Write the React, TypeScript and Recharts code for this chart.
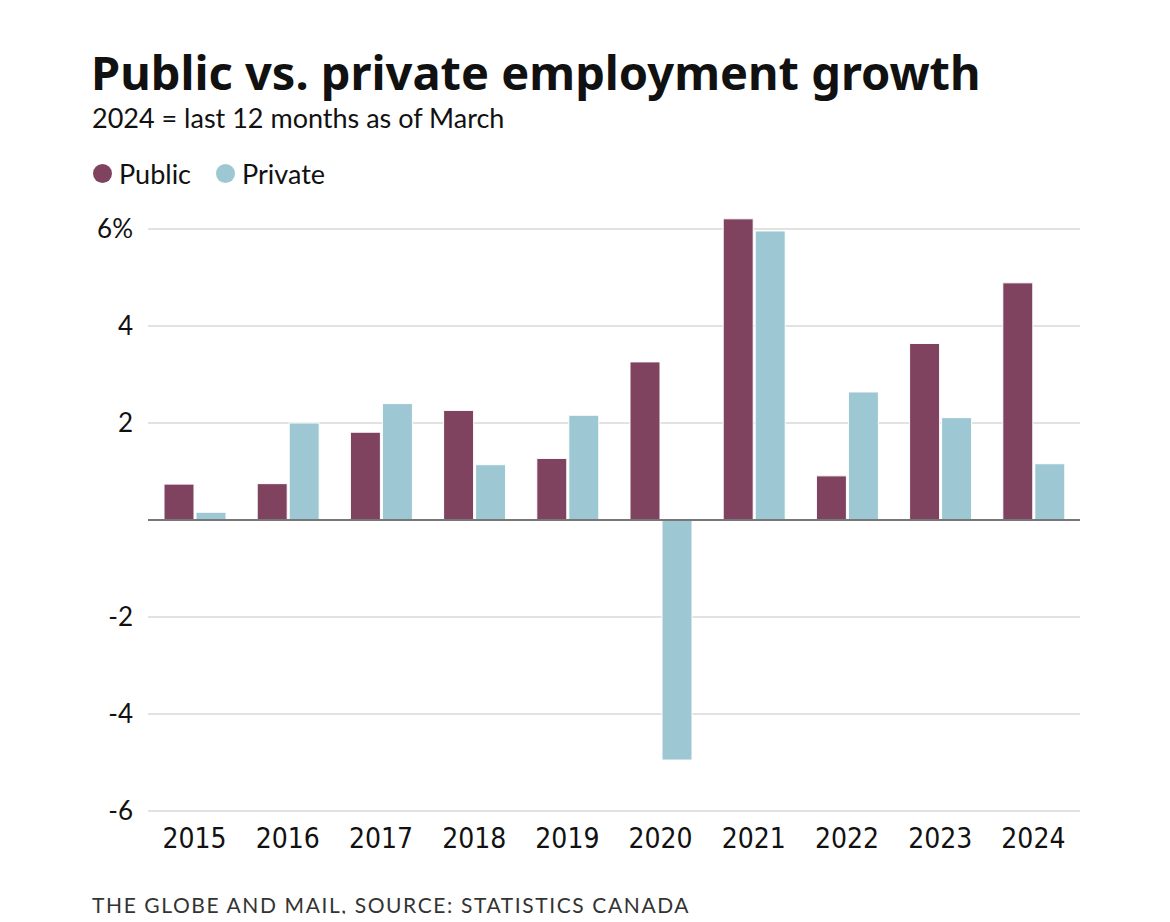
import { BarChart, Bar, XAxis, YAxis, CartesianGrid, ReferenceLine } from "recharts";

const years = ["2015", "2016", "2017", "2018", "2019", "2020", "2021", "2022", "2023", "2024"];
const publicGrowth = [0.74, 0.75, 1.81, 2.26, 1.27, 3.26, 6.21, 0.91, 3.64, 4.89];
const privateGrowth = [0.16, 2.0, 2.4, 1.14, 2.16, -4.95, 5.96, 2.64, 2.11, 1.16];
const yTicks = [-6, -4, -2, 0, 2, 4, 6];

const PUBLIC = "#80435f";
const PRIVATE = "#9cc7d3";
const FONT = "Lato, 'Noto Sans', sans-serif";
const TITLE_FONT = "'Noto Sans', 'Open Sans', sans-serif";
const TICK_FONT = "'Liberation Sans Narrow', 'DejaVu Sans Condensed', Lato, sans-serif";

const data = years.map((year, i) => ({
  year,
  public: publicGrowth[i],
  private: privateGrowth[i],
}));

// the 2021 bar pokes above the 6% line, so let the axis run up to the max
// and push the top margin up by the same amount (~48.5px per point)
const maxVal = Math.max(...publicGrowth, ...privateGrowth);
const PX_PER_UNIT = 582 / 12;
const topMargin = 229 - (maxVal - 6) * PX_PER_UNIT;

// only the top tick carries the unit, zero has no label (the baseline says it)
const yLabel = (v: number) => (v === 6 ? "6%" : v === 0 ? "" : String(v));

function Dot({ color }: { color: string }) {
  return (
    <span
      style={{
        display: "inline-block",
        width: 19,
        height: 19,
        borderRadius: "50%",
        background: color,
        marginRight: 7,
      }}
    />
  );
}

export default function App() {
  return (
    <div
      style={{
        position: "relative",
        width: 1170,
        height: 922,
        margin: -8,
        background: "#fff",
        fontFamily: FONT,
        color: "#111",
      }}
    >
      <div
        style={{
          position: "absolute",
          left: 91,
          top: 49,
          fontSize: 47,
          lineHeight: "47px",
          fontWeight: 700,
          fontFamily: TITLE_FONT,
          whiteSpace: "nowrap",
        }}
      >
        Public vs. private employment growth
      </div>
      <div style={{ position: "absolute", left: 92, top: 101, fontSize: 27, whiteSpace: "nowrap" }}>
        2024 = last 12 months as of March
      </div>
      <div
        style={{
          position: "absolute",
          left: 93,
          top: 157,
          fontSize: 27,
          display: "flex",
          alignItems: "center",
          gap: 25,
        }}
      >
        <span style={{ display: "flex", alignItems: "center" }}>
          <Dot color={PUBLIC} />
          Public
        </span>
        <span style={{ display: "flex", alignItems: "center" }}>
          <Dot color={PRIVATE} />
          Private
        </span>
      </div>

      <div style={{ position: "absolute", left: 0, top: 0 }}>
        <BarChart
          width={1170}
          height={880}
          data={data}
          margin={{ top: topMargin, right: 90, left: 88, bottom: 29 }}
          barCategoryGap={16}
          barGap={2}
        >
          <CartesianGrid vertical={false} stroke="#e2e2e2" strokeWidth={2} syncWithTicks />
          <XAxis
            dataKey="year"
            axisLine={false}
            tickLine={false}
            tickSize={0}
            tickMargin={17}
            height={40}
            tick={{ fontSize: 28, fill: "#111", fontFamily: TICK_FONT }}
          />
          <YAxis
            domain={[-6, maxVal]}
            ticks={yTicks}
            axisLine={false}
            tickLine={false}
            tickSize={0}
            tickMargin={15}
            width={60}
            interval={0}
            tickFormatter={yLabel}
            tick={{ fontSize: 26, fill: "#111", fontFamily: FONT }}
          />
          <Bar dataKey="public" fill={PUBLIC} stroke="#fff" strokeWidth={1} isAnimationActive={false} />
          <Bar dataKey="private" fill={PRIVATE} stroke="#fff" strokeWidth={1} isAnimationActive={false} />
          <ReferenceLine y={0} stroke="#777" strokeWidth={2} />
        </BarChart>
      </div>

      <div
        style={{
          position: "absolute",
          left: 92,
          top: 892,
          fontSize: 21,
          letterSpacing: 1.6,
          color: "#333",
          whiteSpace: "nowrap",
        }}
      >
        THE GLOBE AND MAIL, SOURCE: STATISTICS CANADA
      </div>
    </div>
  );
}
